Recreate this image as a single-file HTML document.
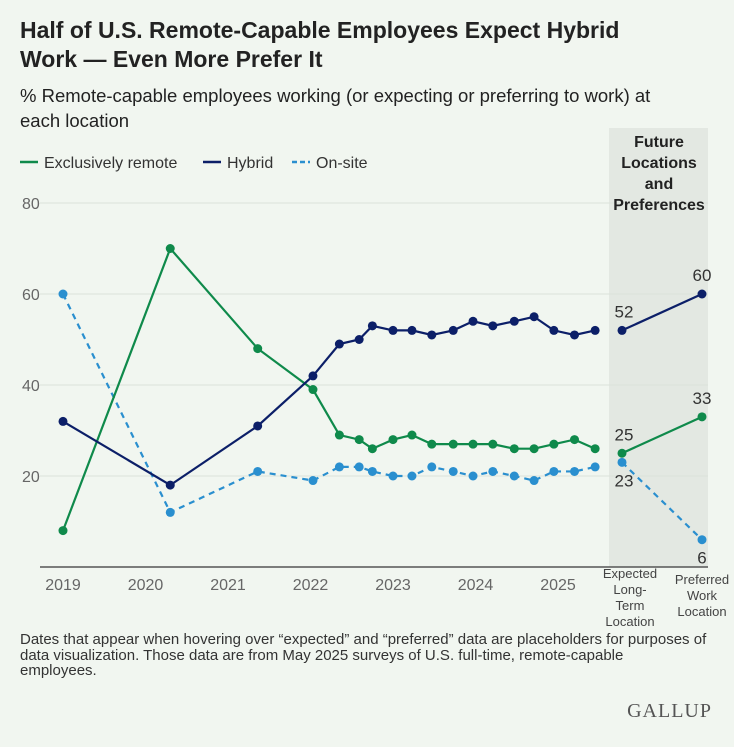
<!DOCTYPE html>
<html><head><meta charset="utf-8"><style>
body{margin:0;width:734px;height:747px;background:#f1f6f0;font-family:"Liberation Sans",sans-serif;overflow:hidden;position:relative;color:#1a1a1a}
.title{position:absolute;left:20px;top:16px;width:650px;font-size:23px;font-weight:bold;line-height:29px;color:#222}
.sub{position:absolute;left:20px;top:83px;width:670px;font-size:18.5px;line-height:25px;color:#222}
.foot{position:absolute;left:20px;top:632px;width:714px;font-size:15px;line-height:15.5px;color:#333;white-space:nowrap}
.logo{position:absolute;right:22px;top:700px;font-family:"Liberation Serif",serif;font-size:20px;letter-spacing:1px;color:#555}
svg{position:absolute;left:0;top:0}
</style></head><body>
<div class="title">Half of U.S. Remote-Capable Employees Expect Hybrid Work — Even More Prefer It</div>
<div class="sub">% Remote-capable employees working (or expecting or preferring to work) at each location</div>
<svg id="c" width="734" height="747"></svg>
<div class="foot">Dates that appear when hovering over “expected” and “preferred” data are placeholders for purposes of<br>data visualization. Those data are from May 2025 surveys of U.S. full-time, remote-capable<br>employees.</div>
<div class="logo">GALLUP</div>
<script>
const dates=[0,1.30,2.36,3.03,3.35,3.59,3.75,4.0,4.23,4.47,4.73,4.97,5.21,5.47,5.71,5.95,6.2,6.45];
const remote=[8,70,48,39,29,28,26,28,29,27,27,27,27,26,26,27,28,26];
const hybrid=[32,18,31,42,49,50,53,52,52,51,52,54,53,54,55,52,51,52];
const onsite=[60,12,21,19,22,22,21,20,20,22,21,20,21,20,19,21,21,22];
const futureRemote=[25,33];
const futureHybrid=[52,60];
const futureOnsite=[23,6];
const yTicks=[20,40,60,80];
const xTicks=["2019","2020","2021","2022","2023","2024","2025"];
const futureCats=[["Expected","Long-","Term","Location"],["Preferred","Work","Location"]];

const NS="http://www.w3.org/2000/svg",svg=document.getElementById('c');
const X=d=>63+d*82.5, Y=v=>567-v*4.55, FX=i=>622+i*80;
function el(t,a,p){const e=document.createElementNS(NS,t);for(const k in a)e.setAttribute(k,a[k]);(p||svg).appendChild(e);return e;}
function tx(x,y,s,a){const e=el('text',Object.assign({x:x,y:y},a));e.textContent=s;return e;}
const sh=el('rect',{x:609,y:128,width:99,height:439,fill:'#e3e8e2'});


yTicks.forEach(v=>{const l=el('line',{x1:40,x2:708,y1:Y(v),y2:Y(v),stroke:'#dbe2da','stroke-width':1});


const t=tx(22,Y(v)+6,v,{'font-size':16,fill:'#666'});

});
['Future','Locations','and','Preferences'].forEach((s,i)=>{const t=tx(659,147+i*21,s,{'text-anchor':'middle','font-size':16,'font-weight':'bold',fill:'#222'});

});
const ax=el('line',{x1:40,x2:708,y1:567,y2:567,stroke:'#555','stroke-width':1.5});


xTicks.forEach((s,i)=>{const t=tx(X(i),590,s,{'text-anchor':'middle','font-size':16,fill:'#666'});

});
futureCats.forEach((c,i)=>c.forEach((s,j)=>{const t=tx(FX(i)+(i?0:8),(i?584:578)+j*16,s,{'text-anchor':'middle','font-size':13,fill:'#444'});

}));
function series(vals,fut,col,dash,name,labs){
 const g=el('g',{});
 
 
 const a={fill:'none',stroke:col,'stroke-width':2.2};if(dash)a['stroke-dasharray']='6,5';
 el('polyline',Object.assign({points:vals.map((v,i)=>X(dates[i])+','+Y(v)).join(' ')},a),g);
 el('polyline',Object.assign({points:fut.map((v,i)=>FX(i)+','+Y(v)).join(' ')},a),g);
 vals.forEach((v,i)=>{const c=el('circle',{cx:X(dates[i]),cy:Y(v),r:4.5,fill:col},g);
 
 });
 fut.forEach((v,i)=>{const c=el('circle',{cx:FX(i),cy:Y(v),r:4.5,fill:col},g);
 
 
 const t=tx(FX(i)+(i?0:2),Y(v)+labs[i],v,{'text-anchor':'middle','font-size':17,fill:'#333'});
 
 });
}
series(onsite,futureOnsite,'#2a8fcf',true,'on-site',[24,24]);
series(remote,futureRemote,'#0f8a4b',false,'remote',[-13,-13]);
series(hybrid,futureHybrid,'#0c1f68',false,'hybrid',[-13,-13]);
const leg=[['Exclusively remote','#0f8a4b',false,20],['Hybrid','#0c1f68',false,203],['On-site','#2a8fcf',true,292]];
leg.forEach(l=>{const g=el('g',{});


el('line',{x1:l[3],x2:l[3]+18,y1:162,y2:162,stroke:l[1],'stroke-width':2.5,'stroke-dasharray':l[2]?'5,3':''},g);
const t=tx(l[3]+24,168,l[0],{'font-size':16,fill:'#333'});g.appendChild(t);});
</script>
</body></html>
